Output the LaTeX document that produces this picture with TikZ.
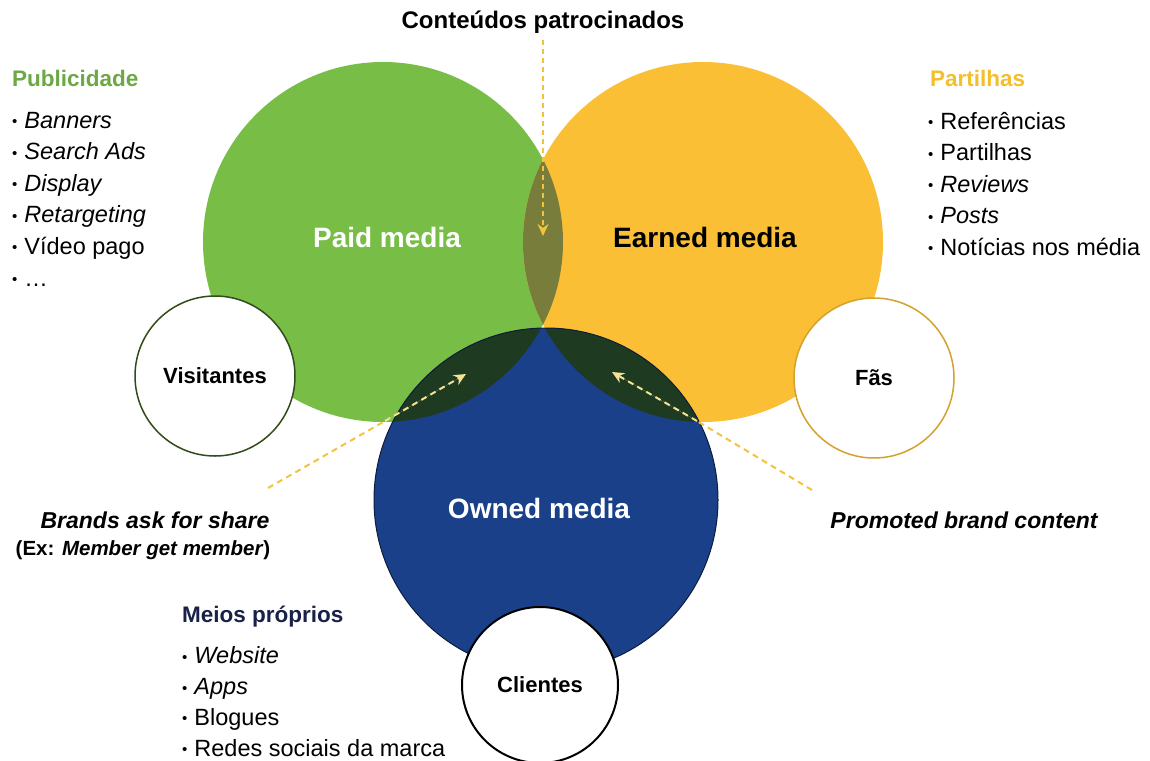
\documentclass[tikz,border=0pt]{standalone}
\usepackage{fontspec}
\setmainfont{Liberation Sans}
\usetikzlibrary{arrows.meta}
\definecolor{paidgreen}{RGB}{120,190,70}
\definecolor{earnedgold}{RGB}{250,191,52}
\definecolor{ownedblue}{RGB}{27,64,138}
\definecolor{ownedline}{RGB}{14,28,60}
\definecolor{lensolive}{RGB}{120,125,60}
\definecolor{lensdark}{RGB}{30,58,32}
\definecolor{headgreen}{RGB}{108,168,68}
\definecolor{headgold}{RGB}{244,190,44}
\definecolor{headnavy}{RGB}{24,34,72}
\definecolor{flowyellow}{RGB}{240,196,62}
\definecolor{flowpale}{RGB}{246,226,150}
\newcommand{\bul}{\raisebox{1.5pt}{\fontsize{15}{15}\selectfont•}\hspace{7pt}}
\tikzset{
    media-disc/.style = {circle, minimum size=360pt, inner sep=0pt},
    media-title/.style = {font=\fontsize{28}{28}\selectfont\bfseries},
    audience/.style = {circle, fill=white, minimum size=160pt, inner sep=0pt, line width=1.5pt, font=\fontsize{22}{22}\selectfont\bfseries},
    list-head/.style = {anchor=base west, inner sep=0pt, font=\fontsize{22.5}{22.5}\selectfont\bfseries},
    list-item/.style = {anchor=base west, inner sep=0pt, font=\fontsize{23.5}{23.5}\selectfont},
    tactic/.style = {inner sep=0pt, font=\fontsize{23}{23}\selectfont\bfseries\itshape},
    share-flow/.style = {draw=flowyellow, line width=2pt, dash pattern=on 6pt off 4.5pt},
    share-tip/.style = {-{Stealth[length=12pt,width=11pt]}},
}

\begin{document}
\begin{tikzpicture}[x=1pt,y=-1pt]
\useasboundingbox (0,0) rectangle (1150,760);

% the three media
\node [media-disc, fill=paidgreen] (paid) at (383,242) {};
\node [media-disc, fill=earnedgold] (earned) at (703,242) {};
\node [media-disc, minimum size=344pt, fill=ownedblue] (owned) at (546,500) {};

% overlaps
\begin{scope}
    \clip (paid.center) circle [radius=180pt];
    \fill [lensolive] (earned.center) circle [radius=180pt];
\end{scope}
\begin{scope}
    \clip (owned.center) circle [radius=172pt];
    \fill [lensdark] (paid.center) circle [radius=180pt];
    \fill [lensdark] (earned.center) circle [radius=180pt];
\end{scope}
\draw [ownedline, line width=1pt] (owned.center) circle [radius=172pt];

\node [media-title, text=white] (paid-title) at (387,237) {Paid media};
\node [media-title] (earned-title) at (705,237) {Earned media};
\node [media-title, text=white] (owned-title) at (539,508) {Owned media};

% audiences
\node [audience, draw=black!60!paidgreen] (visitors) at (215,376) {Visitantes};
\node [audience, draw=earnedgold!85!black] (fans) at (874,378) {Fãs};
\node [audience, minimum size=156pt, draw=black, line width=2pt] (clients) at (540,685) {Clientes};

% Publicidade
\node [list-head, text=headgreen] (pub-head) at (12,86) {Publicidade};
\foreach \txt [count=\i] in {\textit{Banners}, \textit{Search Ads}, \textit{Display}, \textit{Retargeting}, Vídeo pago, {\ldots}}
    \node [list-item] (pub\i) at (12,96.4+31.6*\i) {\bul\txt};

% Partilhas
\node [list-head, text=headgold] (share-head) at (930,86) {Partilhas};
\foreach \txt [count=\i] in {Referências, Partilhas, \textit{Reviews}, \textit{Posts}, Notícias nos média}
    \node [list-item] (share\i) at (928,97.5+31.5*\i) {\bul\txt};

% Meios próprios
\node [list-head, text=headnavy] (own-head) at (182,622) {Meios próprios};
\foreach \txt [count=\i] in {\textit{Website}, \textit{Apps}, Blogues, Redes sociais da marca}
    \node [list-item] (own\i) at (182,633+30.8*\i) {\bul\txt};

% tactics between the media
\node [tactic, font=\fontsize{24}{24}\selectfont\bfseries] (sponsored) at (543,22) {Conteúdos patrocinados};
\node [tactic] (ask) at (155,520) {Brands ask for share};
\node [tactic, font=\fontsize{20.5}{20.5}\selectfont\bfseries] (ask-ex) at (143,550) {(Ex: \textit{Member get member})};
\node [tactic] (promoted) at (964,520) {Promoted brand content};

\coordinate (sponsor-from) at (543,40);
\coordinate (sponsor-tip) at (543,236);
\coordinate (ask-from) at (268,488);
\coordinate (ask-in) at (385,421);
\coordinate (ask-tip) at (466,374);
\coordinate (promo-from) at (812,490);
\coordinate (promo-in) at (697,421);
\coordinate (promo-tip) at (612,372);

\draw [share-flow, line width=1.6pt, dash pattern=on 5pt off 4pt, share-tip] (sponsor-from) -- (sponsor-tip);
\draw [share-flow] (ask-from) -- (ask-in);
\draw [share-flow, draw=flowpale, fill=flowpale, share-tip] (ask-in) -- (ask-tip);
\draw [share-flow] (promo-from) -- (promo-in);
\draw [share-flow, draw=flowpale, fill=flowpale, share-tip] (promo-in) -- (promo-tip);
\end{tikzpicture}
\end{document}
